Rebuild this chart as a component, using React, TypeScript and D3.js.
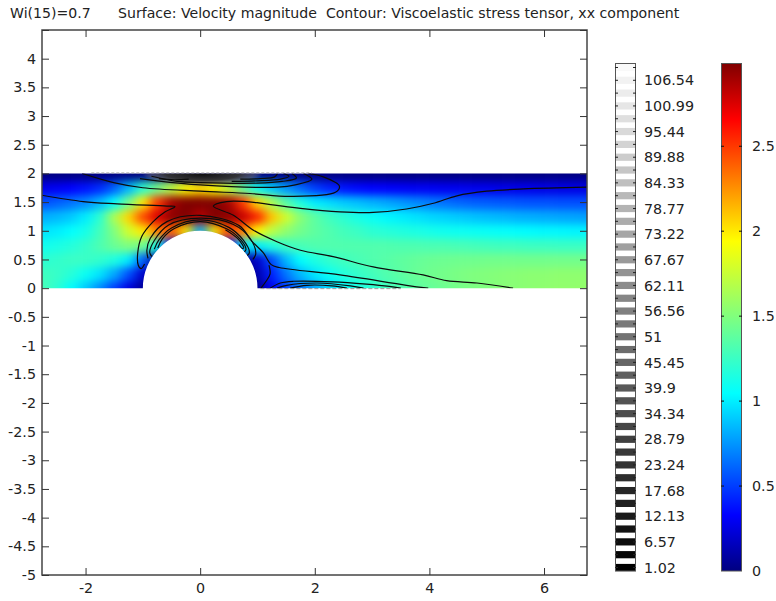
import { useEffect, useRef } from 'react'
import * as d3 from 'd3'

// speed surface, one row per y, columns run x = -2.75 ... 6.75 in steps of 0.25
const gridX = [-2.75,-2.5,-2.25,-2,-1.75,-1.5,-1.25,-1,-0.75,-0.5,-0.25,0,0.25,0.5,0.75,1,1.25,1.5,1.75,2,2.25,2.5,2.75,3,3.25,3.5,3.75,4,4.25,4.5,4.75,5,5.25,5.5,5.75,6,6.25,6.5,6.75]
const gridY = [0, 0.25, 0.5, 0.75, 1, 1.25, 1.5, 1.75, 2]
const speedY00 = [1.3,1.2,1.05,0.9,0.72,0.5,0.25,0.05,0,0,0,0,0,0,0,0.02,0.3,0.5,0.65,0.8,0.93,1.03,1.13,1.2,1.27,1.32,1.37,1.4,1.43,1.46,1.48,1.5,1.52,1.53,1.54,1.55,1.56,1.56,1.57]
const speedY025 = [1.27,1.24,1.18,1.08,0.97,0.8,0.55,0.2,0,0,0,0,0,0,0,0.12,0.42,0.66,0.85,0.98,1.08,1.17,1.23,1.28,1.33,1.37,1.41,1.44,1.46,1.48,1.5,1.51,1.52,1.53,1.54,1.54,1.55,1.55,1.55]
const speedY05 = [1.2,1.22,1.25,1.25,1.22,1.15,1,0.6,0,0,0,0,0,0,0,0.2,0.55,0.85,1.05,1.15,1.22,1.27,1.3,1.33,1.35,1.38,1.4,1.42,1.43,1.44,1.44,1.45,1.45,1.45,1.45,1.45,1.45,1.45,1.45]
const speedY075 = [1.1,1.13,1.17,1.23,1.32,1.42,1.5,1.45,1.1,0.3,0,0,0,0.3,1,1,1.15,1.25,1.3,1.33,1.33,1.33,1.33,1.33,1.33,1.32,1.32,1.31,1.31,1.3,1.29,1.28,1.27,1.27,1.26,1.26,1.25,1.25,1.25]
const speedY10 = [0.97,1,1.05,1.12,1.28,1.5,1.78,2,2.3,2.4,2,0.8,2,2.45,2.3,1.95,1.7,1.55,1.45,1.38,1.33,1.28,1.25,1.2,1.18,1.16,1.14,1.12,1.1,1.09,1.08,1.07,1.06,1.05,1.04,1.03,1.03,1.02,1.02]
const speedY125 = [0.82,0.85,0.9,1,1.2,1.65,2.05,2.45,2.75,2.95,3,2.85,3,2.95,2.8,2.55,2.1,1.78,1.52,1.37,1.27,1.2,1.13,1.08,1.03,1,0.97,0.94,0.92,0.9,0.88,0.86,0.85,0.83,0.82,0.81,0.8,0.79,0.78]
const speedY15 = [0.55,0.6,0.65,0.72,0.85,1.05,1.45,2,2.5,2.9,3,3,3,2.9,2.5,2.05,1.65,1.35,1.15,1,0.95,0.9,0.87,0.83,0.8,0.76,0.72,0.68,0.65,0.62,0.6,0.59,0.58,0.57,0.56,0.56,0.55,0.55,0.55]
const speedY175 = [0.28,0.3,0.33,0.38,0.45,0.6,0.85,1.2,1.45,1.7,1.95,2.05,1.95,1.72,1.4,1.1,0.9,0.75,0.62,0.5,0.42,0.38,0.35,0.33,0.32,0.31,0.3,0.3,0.29,0.29,0.28,0.28,0.27,0.27,0.27,0.26,0.26,0.26,0.26]
const speedY20 = gridX.map(() => 0)
const speedRows = [speedY00, speedY025, speedY05, speedY075, speedY10, speedY125, speedY15, speedY175, speedY20]

// black contour lines in plot coordinates
const contourUpperLeft = [[-2.76,1.62],[-2.04,1.51],[-1.45,1.47],[-0.58,1.43],[-0.44,1.42],[-0.61,1.33],[-0.82,1.16],[-1.02,0.9],[-1.09,0.61],[-1.08,0.4],[-1.03,0.34],[-0.97,0.42]]
const contourUpperRight = [[0.99,1.49],[1.75,1.39],[2.44,1.33],[3.02,1.32],[3.6,1.38],[4.07,1.48],[4.48,1.61],[5,1.69],[5.64,1.73],[6.75,1.76]]
const contourTip = [[0.99,1.49],[0.46,1.51],[0.23,1.43],[0.58,1.27],[0.93,1.01],[1.34,0.81],[1.75,0.66],[2.32,0.55],[3.02,0.37],[3.89,0.23],[4.3,0.13],[4.83,0.09],[5.46,0]]
const contourArch = [[-0.91,0.52],[-0.93,0.66],[-0.87,0.87],[-0.58,1.16],[0,1.27],[0.68,1.09],[0.9,0.82],[1.1,0.62],[1.24,0.41],[1.38,0.36],[2.44,0.23],[3.6,0.05],[3.98,0]]
const contourFootRight = [[0.92,0.5],[0.97,0.6],[0.87,0.87],[0.58,1.11],[0,1.22],[-0.55,1.1],[-0.8,0.83],[-0.88,0.62],[-0.84,0.55]]
const contourNearA = [[-0.8,0.68],[-0.72,0.84],[-0.5,1.05],[0,1.19],[0.5,1.06],[0.75,0.84],[0.86,0.62],[0.82,0.57]]
const contourNearB = [[-0.74,0.7],[-0.66,0.86],[-0.45,1.04],[0,1.16],[0.47,1.03],[0.71,0.84],[0.8,0.68],[0.77,0.63]]
const contourNearC = [[0.68,0.76],[0.72,0.7],[0.76,0.7],[0.66,0.86],[0.44,1.02]]
const contourLow1 = [[1.2,0.4],[1.22,0.25],[1.15,0.12],[1.06,0]]
const contourLow2 = [[1.22,0],[1.4,0.09],[1.63,0.12],[2.32,0.11],[2.9,0.07],[3.3,0.03],[3.5,0]]
const contourLow3 = [[1.34,0],[1.51,0.05],[2.04,0.09],[2.62,0.04],[2.85,0]]
const contourLow4 = [[1.57,0],[1.86,0.05],[2.3,0.04],[2.56,0]]
const contourTop1 = [[-2.06,2],[-1.51,1.84],[-1,1.75],[0,1.69],[0.87,1.65],[1.57,1.6],[2.36,1.67],[2.43,1.78],[2.15,1.94],[1.88,2]]
const contourTop2 = [[-1.05,1.91],[-0.75,1.87],[0,1.8],[1.36,1.76],[1.66,1.8],[1.95,1.9],[1.8,2]]
const contourTop3 = [[-0.85,1.95],[-0.4,1.86],[0,1.84],[1,1.83],[1.43,1.86],[1.68,1.92],[1.6,2]]
const contourTop4 = [[0.55,1.86],[1,1.87],[1.4,1.9],[1.55,1.95],[1.45,2]]
const contourTop5 = [[0.7,1.9],[1.05,1.91],[1.3,1.94],[1.35,2]]
const contourTop6 = [[-0.72,1.91],[-0.45,1.89],[-0.2,1.9]]
const contourLines = [contourUpperLeft, contourUpperRight, contourTip, contourArch, contourFootRight, contourNearA, contourNearB, contourNearC, contourLow1, contourLow2, contourLow3, contourLow4, contourTop1, contourTop2, contourTop3, contourTop4, contourTop5, contourTop6]

// grey shading where the stress contours crowd round the top of the cylinder
const shadeAngles = [-55,-45,-35,-25,-15,-5,5,15,25,35,45,55]
const shadeReach = [1.03,1.06,1.09,1.12,1.15,1.17,1.17,1.16,1.14,1.11,1.08,1.04]
const shadeRadii = [1,1.02,1.04,1.06,1.08,1.1,1.12,1.14,1.16,1.18]
const shadeGreys = ['#ffffff','#e6e6e6','#bbbbbb','#888888','#555555','#2c2c2c','#111111','#000000','#000000']

const xTicks = [-2, 0, 2, 4, 6]
const yTicks = [4.5,4,3.5,3,2.5,2,1.5,1,0.5,0,-0.5,-1,-1.5,-2,-2.5,-3,-3.5,-4,-4.5,-5]
const stressLabels = [1.02,6.57,12.13,17.68,23.24,28.79,34.34,39.9,45.45,51,56.56,62.11,67.67,73.22,78.77,84.33,89.88,95.44,100.99,106.54]
const speedTicks = [0, 0.5, 1, 1.5, 2, 2.5]
const speedMax = 2.99

const title1 = 'Wi(15)=0.7'
const title2 = 'Surface: Velocity magnitude  Contour: Viscoelastic stress tensor, xx component'

const FONT = '"DejaVu Sans", sans-serif'
const x = d3.scaleLinear().domain([-2.76, 6.75]).range([42, 587])
const y = d3.scaleLinear().domain([4.5, -5]).range([30, 575])
const jetStops = [0, 0.11, 0.35, 0.5, 0.65, 0.89, 1]
const jetColors = ['#000080', '#0000ff', '#00ffff', '#7fff7f', '#ffff00', '#ff0000', '#800000']
const jet = d3.scaleLinear<string>().domain(jetStops.map(s => s * speedMax)).range(jetColors).clamp(true)
const stressY = d3.scaleLinear().domain([1.02, 106.54]).range([567.5, 80.3])
const stressGrey = d3.scaleLinear<string>().domain([1.02, 112]).range(['#000000', '#ffffff'])
const speedY = d3.scaleLinear().domain([0, speedMax]).range([571, 63])
const contourPath = d3.line().x(d => x(d[0])).y(d => y(d[1])).curve(d3.curveCatmullRom.alpha(0.5))
const unit = x(1) - x(0)
const arc = d3.arc()

export default function App() {
  const xAxisRef = useRef<SVGGElement>(null)
  const yAxisRef = useRef<SVGGElement>(null)
  const xTopRef = useRef<SVGGElement>(null)
  const yRightRef = useRef<SVGGElement>(null)

  useEffect(() => {
    const style = (g: any) => {
      g.select('.domain').remove()
      g.selectAll('line').attr('stroke', '#333').attr('stroke-width', 1)
      g.selectAll('text').attr('font-family', FONT).attr('font-size', 14.3).attr('fill', '#222')
    }
    d3.select(xAxisRef.current).call(d3.axisBottom(x).tickValues(xTicks).tickSize(-7).tickPadding(8).tickFormat(d => String(d)) as any).call(style)
    d3.select(xTopRef.current).call(d3.axisTop(x).tickValues(xTicks).tickSize(-7).tickFormat(() => '') as any).call(style)
    d3.select(yAxisRef.current).call(d3.axisLeft(y).tickValues(yTicks).tickSize(-7).tickPadding(6).tickFormat(d => (d === 4.5 ? '' : String(d))) as any).call(style)
    d3.select(yRightRef.current).call(d3.axisRight(y).tickValues(yTicks).tickSize(-7).tickFormat(() => '') as any).call(style)
  }, [])

  const cellW = x(0.25) - x(0)
  const cellH = y(0) - y(0.25)
  const levels = stressLabels.flatMap((l, i) => i < stressLabels.length - 1 ? [l, (l + stressLabels[i + 1]) / 2] : [l, l + (l - stressLabels[i - 1]) / 2])

  return (
    <svg width={776} height={601} style={{ position: 'absolute', left: 0, top: 0, background: '#fff' }}>
      <defs>
        <filter id="soft" filterUnits="userSpaceOnUse" x={0} y={100} width={776} height={260} colorInterpolationFilters="sRGB">
          <feGaussianBlur stdDeviation="5.5 4" />
        </filter>
        <filter id="softShade" filterUnits="userSpaceOnUse" x={0} y={100} width={776} height={260} colorInterpolationFilters="sRGB">
          <feGaussianBlur stdDeviation="1.6" />
        </filter>
        <clipPath id="channel">
          <path d={`M${x(-2.76)},${y(2)}H${x(6.75)}V${y(0)}H${x(1)}A${unit},${unit} 0 0 0 ${x(-1)},${y(0)}H${x(-2.76)}Z`} />
        </clipPath>
        <radialGradient id="wallShade">
          <stop offset="0" stopColor="#111" stopOpacity={1} />
          <stop offset="0.6" stopColor="#333" stopOpacity={0.95} />
          <stop offset="0.85" stopColor="#666" stopOpacity={0.55} />
          <stop offset="1" stopColor="#888" stopOpacity={0} />
        </radialGradient>
        <linearGradient id="speedBar" x1="0" x2="0" y1="1" y2="0">
          {jetStops.map((s, i) => <stop key={i} offset={s} stopColor={jetColors[i]} />)}
        </linearGradient>
      </defs>

      <g clipPath="url(#channel)">
        <g filter="url(#soft)">
          {speedRows.map((row, r) => row.map((v, c) => {
            const left = c === 0 ? x(gridX[c]) - 40 : x(gridX[c]) - cellW / 2
            const right = c === gridX.length - 1 ? x(gridX[c]) + 40 : x(gridX[c]) + cellW / 2
            const top = r === gridY.length - 1 ? y(gridY[r]) - 40 : y(gridY[r]) - cellH / 2
            const bottom = r === 0 ? y(gridY[r]) + 40 : y(gridY[r]) + cellH / 2
            return <rect key={`${r}-${c}`} x={left} y={top} width={right - left + 0.5} height={bottom - top + 0.5} fill={jet(v)} />
          }))}
        </g>
        <ellipse cx={x(0.04)} cy={y(1.98)} rx={unit * 1.05} ry={unit * 0.17} fill="url(#wallShade)" />
        <g filter="url(#softShade)" transform={`translate(${x(0)},${y(0)})`}>
          {shadeAngles.slice(0, -1).map((a, i) => shadeRadii.slice(0, -1).map((r, k) => {
            if (r >= shadeReach[i]) return null
            return <path key={`${i}-${k}`} fill={shadeGreys[Math.min(k + 8 - shadeRadii.filter(q => q < shadeReach[i]).length, 8)]}
              d={arc({ innerRadius: r * unit - 0.3, outerRadius: shadeRadii[k + 1] * unit + 0.3, startAngle: a * Math.PI / 180, endAngle: shadeAngles[i + 1] * Math.PI / 180 } as any) as string} />
          }))}
        </g>
        {contourLines.map((c, i) => (
          <path key={i} d={contourPath(c as [number, number][]) as string} fill="none" stroke="#0c0c0c" strokeWidth={1.2} />
        ))}
      </g>

      <line x1={x(-1.9)} x2={x(1.95)} y1={y(2) - 0.5} y2={y(2) - 0.5} stroke="#aaa" strokeWidth={1} strokeDasharray="3 2" />
      <line x1={x(1.05)} x2={x(3.5)} y1={y(0) + 0.5} y2={y(0) + 0.5} stroke="#999" strokeWidth={1} strokeDasharray="4 2" />

      <rect x={42} y={30} width={545} height={545} fill="none" stroke="#444" strokeWidth={1.5} />
      <g ref={xAxisRef} transform="translate(0,575)" />
      <g ref={xTopRef} transform="translate(0,30)" />
      <g ref={yAxisRef} transform="translate(42,0)" />
      <g ref={yRightRef} transform="translate(587,0)" />

      <text x={10} y={18} fontFamily={FONT} fontSize={14.1} fill="#222">{title1}</text>
      <text x={118} y={18} fontFamily={FONT} fontSize={14.1} fill="#222" xmlSpace="preserve">{title2}</text>

      <g>
        {levels.map((l, i) => (
          <rect key={i} x={615} y={stressY(l) - 3.6} width={21} height={7.2} fill={stressGrey(l)} />
        ))}
        <rect x={615.5} y={63.5} width={20} height={507.5} fill="none" stroke="#555" strokeWidth={1} />
        {levels.map((l, i) => (
          <g key={i} stroke="#222" strokeWidth={1}>
            <line x1={615} x2={618} y1={stressY(l)} y2={stressY(l)} />
            <line x1={633} x2={636} y1={stressY(l)} y2={stressY(l)} />
          </g>
        ))}
        {stressLabels.map(l => (
          <text key={l} x={644} y={stressY(l)} dy="0.36em" fontFamily={FONT} fontSize={14.3} fill="#222">{String(l)}</text>
        ))}
      </g>

      <g>
        <rect x={721.5} y={63.5} width={20} height={507.5} fill="url(#speedBar)" stroke="#555" strokeWidth={1} />
        {speedTicks.slice(1).map(t => (
          <g key={t} stroke="#111" strokeWidth={1}>
            <line x1={721} x2={724} y1={speedY(t)} y2={speedY(t)} />
            <line x1={739} x2={742} y1={speedY(t)} y2={speedY(t)} />
          </g>
        ))}
        {speedTicks.map(t => (
          <text key={t} x={752} y={speedY(t)} dy="0.36em" fontFamily={FONT} fontSize={14.3} fill="#222">{String(t)}</text>
        ))}
      </g>
    </svg>
  )
}
